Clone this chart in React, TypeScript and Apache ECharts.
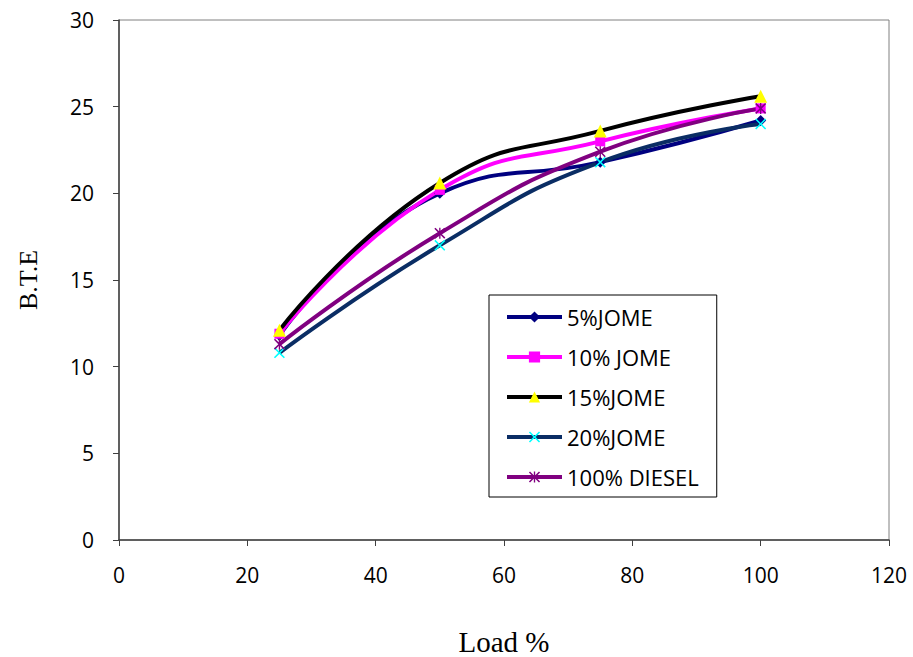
import React, { useEffect, useRef } from "react";
import * as echarts from "echarts";

const loads = [25, 50, 75, 100];
const jome5 = [11.8, 20.0, 21.8, 24.2];
const jome10 = [11.9, 20.2, 23.0, 24.9];
const jome15 = [12.1, 20.6, 23.6, 25.6];
const jome20 = [10.8, 17.0, 21.8, 24.0];
const diesel = [11.3, 17.7, 22.4, 24.9];

const xSymbol =
  "path://M0,1 L1,0 L5,4 L9,0 L10,1 L6,5 L10,9 L9,10 L5,6 L1,10 L0,9 L4,5 Z";
const starSymbol =
  "path://M0,1 L1,0 L5,4 L9,0 L10,1 L6,5 L10,9 L9,10 L5,6 L1,10 L0,9 L4,5 Z M4.4,0 L5.6,0 L5.6,10 L4.4,10 Z";

const pairs = (ys: number[]) => loads.map((x, i) => [x, ys[i]]);

export default function App() {
  const ref = useRef<HTMLDivElement>(null);
  useEffect(() => {
    const chart = echarts.init(ref.current!, undefined, { renderer: "svg" });
    const mk = (
      name: string,
      ys: number[],
      lineColor: string,
      markColor: string,
      symbol: string,
      size: number
    ) => ({
      name,
      type: "line",
      data: pairs(ys),
      smooth: 0.5,
      symbol,
      symbolSize: size,
      lineStyle: { color: lineColor, width: 4 },
      itemStyle: { color: markColor, borderWidth: 0 },
    });
    chart.setOption({
      animation: false,
      backgroundColor: "#fff",
      grid: {
        left: 119,
        right: 24,
        top: 20,
        bottom: 117,
        containLabel: false,
        outerBoundsMode: "none",
        show: true,
        borderColor: "#808080",
        borderWidth: 1,
      },
      xAxis: {
        type: "value",
        min: 0,
        max: 120,
        interval: 20,
        name: "Load %",
        nameLocation: "middle",
        nameGap: 87,
        nameTextStyle: {
          fontFamily: "Liberation Serif",
          fontSize: 29,
          color: "#000",
        },
        axisLine: { show: true, lineStyle: { color: "#404040", width: 1.5 } },
        axisTick: { show: true, length: 6, lineStyle: { color: "#404040" } },
        axisLabel: {
          margin: 24,
          fontFamily: "Open Sans",
          fontSize: 21,
          color: "#000",
        },
        splitLine: { show: false },
      },
      yAxis: {
        type: "value",
        min: 0,
        max: 30,
        interval: 5,
        name: "B.T.E",
        nameLocation: "middle",
        nameGap: 78,
        nameRotate: 90,
        nameTextStyle: {
          fontFamily: "Liberation Serif",
          fontSize: 26,
          color: "#000",
        },
        axisLine: { show: true, lineStyle: { color: "#404040", width: 1.5 } },
        axisTick: { show: true, length: 6, lineStyle: { color: "#404040" } },
        axisLabel: {
          margin: 25,
          fontFamily: "Open Sans",
          fontSize: 21,
          color: "#000",
        },
        splitLine: { show: false },
      },
      legend: {
        orient: "vertical",
        left: 489,
        top: 295,
        width: 229,
        padding: [9, 18, 7, 16],
        borderColor: "#000",
        borderWidth: 1,
        itemWidth: 55,
        itemHeight: 14,
        itemGap: 14,
        lineStyle: { width: 4 },
        textStyle: {
          fontFamily: "Open Sans",
          fontSize: 22,
          lineHeight: 26,
          color: "#000",
        },
        data: ["5%JOME", "10% JOME", "15%JOME", "20%JOME", "100% DIESEL"],
      },
      series: [
        mk("5%JOME", jome5, "#000080", "#000080", "diamond", 11),
        mk("10% JOME", jome10, "#FF00FF", "#FF00FF", "rect", 10),
        mk("15%JOME", jome15, "#000000", "#FFFF00", "triangle", 13),
        mk("20%JOME", jome20, "#0A2D64", "#00FFFF", xSymbol, 11),
        mk("100% DIESEL", diesel, "#800080", "#800080", starSymbol, 11),
      ],
    });
    return () => chart.dispose();
  }, []);
  return (
    <div
      ref={ref}
      style={{ position: "fixed", left: 0, top: 0, width: 913, height: 657 }}
    />
  );
}
